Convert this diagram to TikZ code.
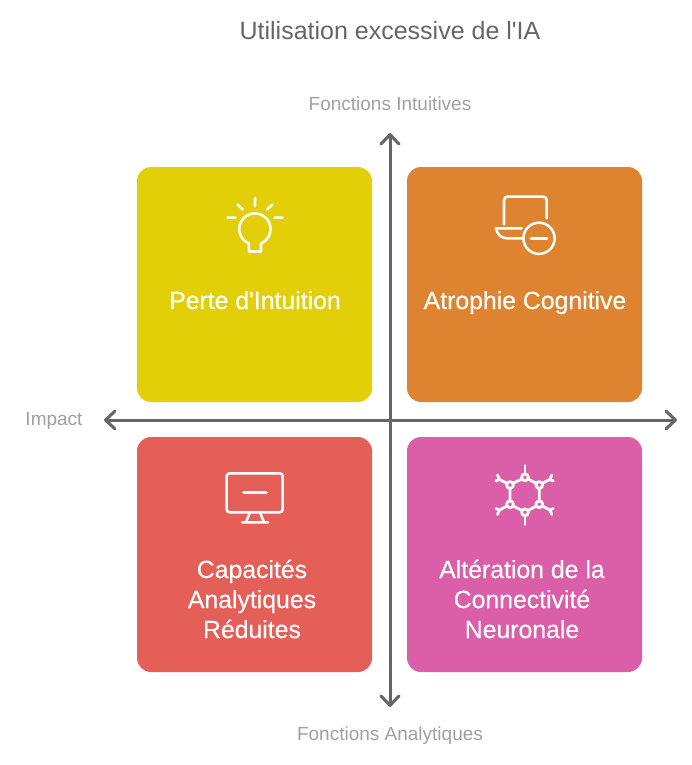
\documentclass[tikz,border=0pt]{standalone}
\usepackage{fontspec}
\setmainfont[Ligatures=TeXOff]{Liberation Sans}
\newfontfamily\medfont[Ligatures=TeXOff,FakeBold=0.3]{Liberation Sans}
\usetikzlibrary{arrows.meta}
\definecolor{cyellow}{HTML}{E2CF08}
\definecolor{corange}{HTML}{DE8431}
\definecolor{cred}{HTML}{E45F58}
\definecolor{cpink}{HTML}{DB5FA8}
\definecolor{caxis}{HTML}{666666}
\definecolor{clabel}{HTML}{A0A0A0}
\definecolor{ctitle}{HTML}{666666}
\tikzset{
  x=0.75pt,y=-0.75pt,
  quad/.style={fill=#1,rounded corners=10.5pt,draw=none},
  axisline/.style={draw=caxis,line width=2.25pt,line cap=round,
    {Straight Barb[length=7.2pt,width=13.5pt,line cap=round,round]}-{Straight Barb[length=7.2pt,width=13.5pt,line cap=round,round]}},
  ic/.style={draw=white,line width=1.9pt,line cap=round,line join=round},
  icn/.style={ic,line width=2.1pt},
  boxtext/.style={text=white,font=\medfont\fontsize{18.6pt}{22.5pt}\selectfont,align=center},
  boxline/.style={boxtext,anchor=base},
  axislabel/.style={text=clabel,anchor=base,font=\fontsize{14.25pt}{16pt}\selectfont},
}
\begin{document}
\begin{tikzpicture}
\useasboundingbox (0,0) rectangle (692,765);
\fill[quad=cyellow] (137,167) rectangle (372,402);
\fill[quad=corange] (407,167) rectangle (642,402);
\fill[quad=cred] (137,437) rectangle (372,672);
\fill[quad=cpink] (407,437) rectangle (642,672);
\coordinate (axT) at (390,133);
\coordinate (axB) at (390,707);
\coordinate (axL) at (104,420);
\coordinate (axR) at (677,420);
\draw[axisline] (axT) -- (axB);
\draw[axisline] (axL) -- (axR);
\node[text=ctitle,anchor=base,font=\fontsize{18.75pt}{22pt}\selectfont] (title) at (390,39) {Utilisation excessive de l'IA};
\node[axislabel] (lt) at (390,110) {Fonctions Intuitives};
\node[axislabel] (lb) at (390,740) {Fonctions Analytiques};
\node[axislabel] (ll) at (54,425.5) {Impact};
\node[boxline] (t1) at (255,309) {Perte d'Intuition};
\node[boxline] (t2) at (525,309) {Atrophie Cognitive};
\node[boxtext] (t3) at (252,599) {Capacités\\Analytiques\\Réduites};
\node[boxtext] (t4) at (522,599) {Altération de la\\Connectivité\\Neuronale};
% bulb
\draw[ic] (249,251.5) -- (261,251.5) -- (261,243.4) arc[start angle=67,end angle=-247,radius=15.6] -- cycle;
\draw[ic] (255,198) -- (255,206) (227.5,217.7) -- (235.5,217.7) (274.5,217.7) -- (282.5,217.7)
  (237.5,204.5) -- (243,209.5) (272.5,204.5) -- (267,209.5);
% laptop
\draw[ic] (504,224.3) -- (504,200) arc[start angle=180,end angle=270,radius=3.3] -- (543.4,196.7) arc[start angle=270,end angle=360,radius=3.3] -- (546.7,218.3);
\draw[ic] (521.7,228.3) -- (496,228.3) .. controls (497,234) and (501,238.3) .. (507,238.3) -- (523,238.3);
\draw[ic] (539,238.3) circle[radius=15.6];
\draw[ic] (531,238.3) -- (547,238.3);
% monitor
\draw[ic] (226.7,473.3) [rounded corners=2.2pt] rectangle (282.7,512.3);
\draw[ic] (243.5,492.3) -- (266.5,492.3);
\draw[ic] (250,512.3) -- (246,522.3) (260,512.3) -- (264,522.3) (242,522.3) -- (268,522.3);
% neuron
\foreach \a/\b in {510/485,539.3/485,510/504.3,539.3/504.3,525/477.3,525/512.3}{\draw[icn] (\a,\b) circle[radius=3.4];}
\draw[icn] (513,483.3) -- (522,479) (528,479) -- (536.3,483.3) (510,488.3) -- (510,501) (539.3,488.3) -- (539.3,501)
  (513,506) -- (522,510.5) (528,510.5) -- (536.3,506);
\draw[icn] (525,474) -- (525,465.5) (525,515.6) -- (525,524.5);
\draw[icn] (507,483.3) -- (499.5,479.5) (499.5,479.5) -- (496,481) (499.5,479.5) -- (497.5,475);
\draw[icn] (542.3,483.3) -- (549.8,479.5) (549.8,479.5) -- (553.3,481) (549.8,479.5) -- (551.8,475);
\draw[icn] (507,506) -- (499.5,510) (499.5,510) -- (496,508.5) (499.5,510) -- (497.5,514.5);
\draw[icn] (542.3,506) -- (549.8,510) (549.8,510) -- (553.3,508.5) (549.8,510) -- (551.8,514.5);
\end{tikzpicture}
\end{document}
